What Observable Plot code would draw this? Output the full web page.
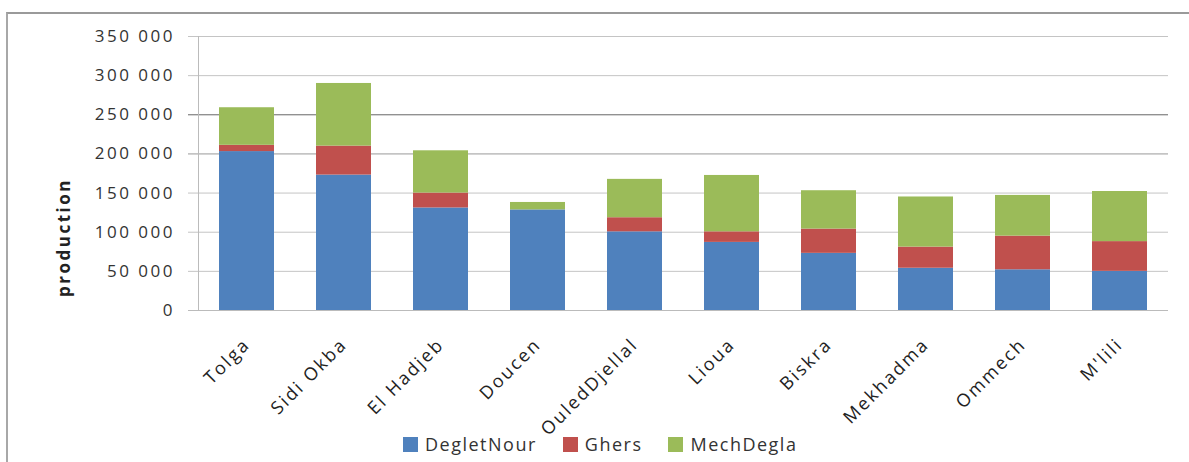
<!DOCTYPE html>
<html>
<head>
<meta charset="utf-8">
<script src="https://cdn.jsdelivr.net/npm/d3@7"></script>
<script src="https://cdn.jsdelivr.net/npm/@observablehq/plot@0.6"></script>
<style>
  html, body { margin: 0; padding: 0; background: #fff; }
  #wrap { position: relative; width: 1189px; height: 462px; overflow: hidden; font-family: "Open Sans", sans-serif; }
  #border { position: absolute; left: 6px; top: 12px; right: -4px; bottom: -4px; border-top: 2px solid #9a9a9a; border-left: 2px solid #a8a8a8; pointer-events: none; }
  #chart { position: absolute; left: 0; top: 0; }
  #chart [aria-label="y-axis tick label"] text { letter-spacing: 2.5px; }
  #chart [aria-label="x-axis tick label"] text { letter-spacing: 2.2px; font-size: 18px; }
  #chart .ylab text { letter-spacing: 2.5px; }
  #legend { position: absolute; top: 432px; left: 403px; display: flex; align-items: center; font-size: 18px; letter-spacing: 1.5px; color: #333; }
  #legend .item { display: flex; align-items: center; margin-right: 26px; }
  #legend .sw { width: 15px; height: 15px; margin-right: 7px; }
</style>
</head>
<body>
<div id="wrap">
  <div id="chart"></div>
  <div id="border"></div>
  <div id="legend"></div>
</div>
<script>
const cities = ["Tolga", "Sidi Okba", "El Hadjeb", "Doucen", "OuledDjellal", "Lioua", "Biskra", "Mekhadma", "Ommech", "M'lili"];
const series = ["DegletNour", "Ghers", "MechDegla"];
const degletNour = [203000, 173000, 131000, 128500, 100500, 87000, 73000, 54000, 52000, 50000];
const ghers      = [8000, 37000, 19000, 0, 18000, 13500, 31000, 27000, 43000, 38000];
const mechDegla  = [48000, 80000, 54000, 9500, 49000, 72000, 49000, 64000, 52000, 64000];
const yTicks = [0, 50000, 100000, 150000, 200000, 250000, 300000, 350000];
const colors = ["#4F81BD", "#C0504D", "#9BBB59"];

const values = [degletNour, ghers, mechDegla];
const data = series.flatMap((s, i) => cities.map((c, j) => ({city: c, series: s, value: values[i][j]})));
const fmt = d => d3.format(",")(d).replace(/,/g, " ");

const chart = Plot.plot({
  width: 1189,
  height: 462,
  marginLeft: 198,
  marginRight: 21,
  marginTop: 36,
  marginBottom: 152,
  style: {fontFamily: "'Open Sans', sans-serif", fontSize: "17px", color: "#333", background: "transparent"},
  x: {domain: cities, paddingInner: 0.43, paddingOuter: 0.215, label: null},
  y: {domain: [0, 350000], label: null},
  color: {domain: series, range: colors},
  marks: [
    Plot.gridY([50000, 100000, 150000, 300000, 350000], {stroke: "#c4c4c4", strokeOpacity: 1, insetLeft: -10}),
    Plot.gridY([200000], {stroke: "#999", strokeOpacity: 1, insetLeft: -10}),
    Plot.gridY([250000], {stroke: "#666", strokeOpacity: 1, insetLeft: -10}),
    Plot.frame({anchor: "left", stroke: "#bbb"}),
    Plot.barY(data, {x: "city", y: "value", fill: "series"}),
    Plot.ruleY([0], {stroke: "#bbb", insetLeft: -10}),
    Plot.axisY({ticks: yTicks, tickSize: 0, tickPadding: 23.5, tickFormat: fmt, fill: "#333", label: null}),
    Plot.axisX({tickSize: 0, tickRotate: -45, tickPadding: 31, fill: "#222", label: null}),
    Plot.text(["production"], {frameAnchor: "left", textAnchor: "middle", rotate: -90, dx: -134, dy: 64, fontWeight: "bold", fontSize: 17, fill: "#222", className: "ylab"})
  ]
});
document.getElementById("chart").appendChild(chart);

const legend = document.getElementById("legend");
series.forEach((s, i) => {
  const item = document.createElement("div");
  item.className = "item";
  const sw = document.createElement("div");
  sw.className = "sw";
  sw.style.background = colors[i];
  const t = document.createElement("span");
  t.textContent = s;
  item.appendChild(sw);
  item.appendChild(t);
  legend.appendChild(item);
});
</script>
</body>
</html>
